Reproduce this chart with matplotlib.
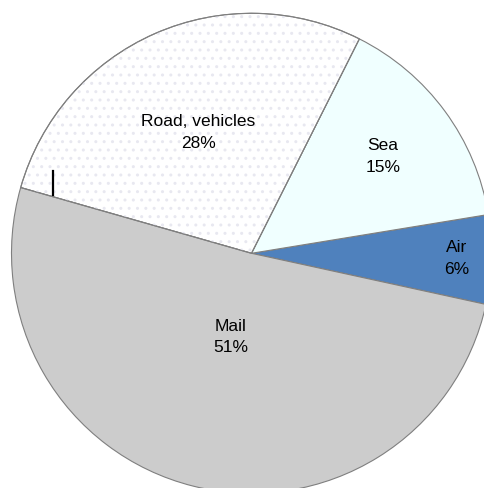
import matplotlib.pyplot as plt
import matplotlib.patches as mpatches
import numpy as np

labels = ['Air', 'Sea', 'Road, vehicles', 'Mail']
shares = [6, 15, 28, 51]
colors = ['#4F81BD', '#F0FFFF', '#FFFFFF', '#CCCCCC']
label_r = [0.855, 0.68, 0.55, 0.36]

plt.rcParams['font.family'] = ['Liberation Sans', 'DejaVu Sans']

fig = plt.figure(figsize=(4.84, 4.88), dpi=100)
ax = fig.add_axes([0, 0, 1, 1])

cx, cy, r = 251.5, 234.7, 240
wedges, _ = ax.pie(shares, colors=colors, startangle=-12.3, counterclock=True,
                   center=(cx, cy), radius=r, frame=True,
                   wedgeprops=dict(edgecolor='#7f7f7f', linewidth=0.8))
ax.set_xlim(0, 484)
ax.set_ylim(0, 488)
ax.axis('off')

# faint dotted fill on the road slice
w = wedges[2]
dots = mpatches.Wedge((cx, cy), r, w.theta1, w.theta2, facecolor='none',
                      edgecolor='#e8e8f0', linewidth=0, hatch='..', zorder=1.5)
ax.add_patch(dots)
w.set_zorder(1)
outline = mpatches.Wedge((cx, cy), r, w.theta1, w.theta2, facecolor='none',
                         edgecolor='#7f7f7f', linewidth=0.8, zorder=2)
ax.add_patch(outline)

for wd, lab, s, d in zip(wedges, labels, shares, label_r):
    ang = np.deg2rad((wd.theta1 + wd.theta2) / 2)
    ax.text(cx + d * r * np.cos(ang), cy + d * r * np.sin(ang),
            f'{lab}\n{s}%', ha='center', va='center', fontsize=12.5,
            linespacing=1.55, zorder=5)

# small leader tick on the left
ax.plot([53, 53], [293, 317], color='black', linewidth=1.6, zorder=5)

fig.savefig('out.png', dpi=100)
